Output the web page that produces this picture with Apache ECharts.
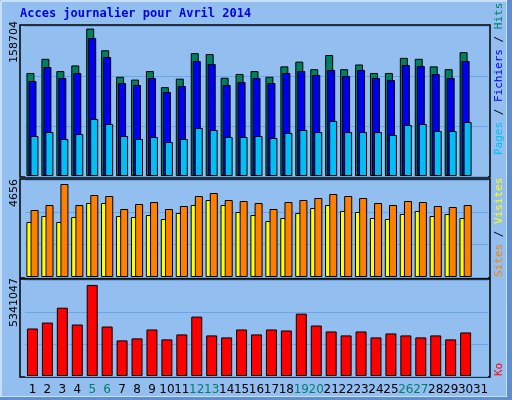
<!DOCTYPE html>
<html>
<head>
<meta charset="utf-8">
<script src="https://cdn.jsdelivr.net/npm/echarts@6/dist/echarts.min.js"></script>
<style>html,body{margin:0;padding:0;background:#93bef0;}#main{width:512px;height:400px;}</style>
</head>
<body>
<div id="main"></div>
<script>
var days = ['1','2','3','4','5','6','7','8','9','10','11','12','13','14','15','16','17','18','19','20','21','22','23','24','25','26','27','28','29','30','31'];
var weekend = ['5','6','12','13','19','20','26','27'];
var hits = [109000,124000,111000,117000,156000,133000,105000,102000,111000,94000,103000,130000,129000,104000,108000,111000,105000,116000,121000,113000,128000,113000,118000,109000,109000,125000,124000,116000,113000,131000,null];
var files = [100500,115300,103700,109000,146000,125900,98400,96300,103700,88900,95200,121700,118500,96300,99500,103700,98400,109000,111100,106900,112200,105800,112200,103700,101600,117400,116400,107900,103700,121700,null];
var pages = [42300,46500,39100,44400,60300,55000,42300,39100,41300,36000,39100,50800,48700,41300,41300,42300,40200,45500,48700,46500,58200,46500,46500,46500,43400,54000,55000,47600,47600,57100,null];
var sites = [2640,2928,2640,2880,3552,3552,2928,2880,2976,2784,3072,3456,3696,3456,3120,2976,2688,2832,3072,3312,3456,3168,3120,2832,2784,3024,3168,2928,3024,2832,null];
var visits = [3216,3456,4464,3456,3936,3888,3264,3504,3600,3264,3408,3888,4032,3696,3648,3552,3264,3600,3696,3792,3984,3888,3792,3552,3456,3648,3600,3408,3360,3456,null];
var ko = [2643000,2973000,3799000,2863000,5066000,2753000,1982000,2092000,2588000,2037000,2313000,3304000,2258000,2147000,2588000,2313000,2588000,2533000,3469000,2808000,2478000,2258000,2478000,2147000,2368000,2258000,2147000,2258000,2037000,2423000,null];
var maxHits = 158704, maxVisits = 4656, maxKo = 5341047;

var myChart = echarts.init(document.getElementById('main'));
var gridLine = {show: true, lineStyle: {color: '#6aa6ea', width: 1}};
var bord = {borderColor: '#000', borderWidth: 1};

function yax(idx, max) {
	return {gridIndex: idx, min: 0, max: max, interval: max / 3,
		axisLabel: {show: false}, axisLine: {show: false}, axisTick: {show: false}, splitLine: gridLine};
}
function xax(idx, showLabels) {
	return {gridIndex: idx, type: 'category', data: days,
		axisLine: {show: false}, axisTick: {show: false},
		axisLabel: {show: showLabels, interval: 0, margin: 8, fontFamily: 'DejaVu Sans', fontSize: 12,
			color: function (v) { return weekend.indexOf(v) >= 0 ? '#00806b' : '#000'; }}};
}
function frame(top, h) {
	return {type: 'rect', shape: {x: 20, y: top, width: 470, height: h}, silent: true,
		style: {fill: 'none', stroke: '#000', lineWidth: 1.5}};
}
function vtext(x, yBottom, text, rich) {
	return {type: 'text', x: x, y: yBottom, rotation: Math.PI / 2, silent: true,
		style: {text: text, rich: rich, fontFamily: 'DejaVu Sans Mono', fontSize: 11, align: 'left', verticalAlign: 'middle'}};
}
var mono = 'DejaVu Sans Mono';

myChart.setOption({
	backgroundColor: '#93bef0',
	animation: false,
	grid: [
		{left: 25, right: 24, top: 26, height: 150},
		{left: 25, right: 24, top: 180, height: 97},
		{left: 25, right: 24, top: 280, height: 96}
	],
	xAxis: [xax(0, false), xax(1, false), xax(2, true)],
	yAxis: [yax(0, maxHits), yax(1, maxVisits), yax(2, maxKo)],
	series: [
		{name: 'Hits', type: 'bar', xAxisIndex: 0, yAxisIndex: 0, data: hits, barWidth: 8, barGap: '-75%', itemStyle: Object.assign({color: '#00805f'}, bord)},
		{name: 'Fichiers', type: 'bar', xAxisIndex: 0, yAxisIndex: 0, data: files, barWidth: 8, barGap: '-75%', itemStyle: Object.assign({color: '#0000f0'}, bord)},
		{name: 'Pages', type: 'bar', xAxisIndex: 0, yAxisIndex: 0, data: pages, barWidth: 8, barGap: '-75%', itemStyle: Object.assign({color: '#00bff5'}, bord)},
		{name: 'Visites', type: 'bar', xAxisIndex: 1, yAxisIndex: 1, data: sites, barWidth: 7, barGap: '-40%', itemStyle: Object.assign({color: '#ffff00'}, bord)},
		{name: 'Sites', type: 'bar', xAxisIndex: 1, yAxisIndex: 1, data: visits, barWidth: 8, barGap: '-40%', itemStyle: Object.assign({color: '#ff8000'}, bord)},
		{name: 'Ko', type: 'bar', xAxisIndex: 2, yAxisIndex: 2, data: ko, barWidth: 11, itemStyle: Object.assign({color: '#ff0000'}, bord)}
	],
	graphic: [
		{type: 'rect', shape: {x: 1, y: 1, width: 506, height: 396}, silent: true, style: {fill: 'none', stroke: '#fff', lineWidth: 1}},
		{type: 'rect', shape: {x: 507, y: 0, width: 5, height: 400}, silent: true, style: {fill: '#5f8fd0'}},
		{type: 'rect', shape: {x: 0, y: 397, width: 512, height: 3}, silent: true, style: {fill: '#5f8fd0'}},
		{type: 'text', left: 20, top: 8, silent: true, style: {text: 'Acces journalier pour Avril 2014', fontFamily: mono, fontSize: 12, fontWeight: 'bold', fill: '#0000e0'}},
		frame(25, 152), frame(179, 99), frame(279, 98),
		{type: 'text', x: 14, y: 63, rotation: Math.PI / 2, silent: true, style: {text: String(maxHits), fontFamily: 'DejaVu Sans', fontSize: 11, fill: '#000', align: 'left', verticalAlign: 'middle'}},
		{type: 'text', x: 14, y: 207, rotation: Math.PI / 2, silent: true, style: {text: String(maxVisits), fontFamily: 'DejaVu Sans', fontSize: 11, fill: '#000', align: 'left', verticalAlign: 'middle'}},
		{type: 'text', x: 14, y: 327, rotation: Math.PI / 2, silent: true, style: {text: String(maxKo), fontFamily: 'DejaVu Sans', fontSize: 11, fill: '#000', align: 'left', verticalAlign: 'middle'}},
		vtext(499, 155, '{p|Pages} {s|/} {f|Fichiers} {s|/} {h|Hits}', {p: {fill: '#00bff5'}, s: {fill: '#000'}, f: {fill: '#0000f0'}, h: {fill: '#00806b'}}),
		vtext(499, 277, '{o|Sites} {s|/} {y|Visites}', {o: {fill: '#ff8000'}, s: {fill: '#000'}, y: {fill: '#ffff00'}}),
		vtext(499, 376, '{r|Ko}', {r: {fill: '#ff0000'}})
	]
});
</script>
</body>
</html>
